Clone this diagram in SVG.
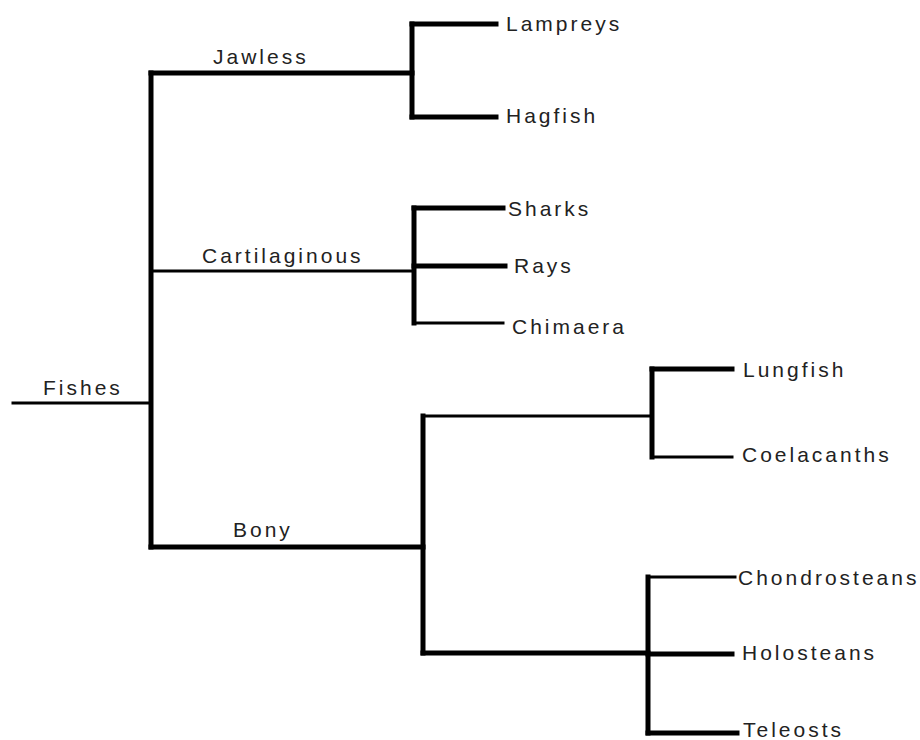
<svg xmlns="http://www.w3.org/2000/svg" width="920" height="740" viewBox="0 0 920 740">
<style>
.thick{stroke:#000;stroke-width:5;fill:none;stroke-linecap:square}
.thin{stroke:#000;stroke-width:3;fill:none;stroke-linecap:square}
text{font-family:"Liberation Sans",Arial,sans-serif;font-size:21px;letter-spacing:3px;fill:#222}
</style>
<rect width="920" height="740" fill="#fff"/>
<g id="connectors">
<line class="thin" x1="13" y1="403" x2="151" y2="403"/>
<line class="thick" x1="151" y1="73" x2="151" y2="547"/>
<line class="thick" x1="151" y1="73" x2="412" y2="73"/>
<line class="thin" x1="151" y1="271" x2="413" y2="271"/>
<line class="thick" x1="151" y1="547" x2="423" y2="547"/>
<line class="thick" x1="412" y1="24" x2="412" y2="117"/>
<line class="thick" x1="412" y1="24" x2="496" y2="24"/>
<line class="thick" x1="412" y1="117" x2="496" y2="117"/>
<line class="thick" x1="414" y1="208" x2="414" y2="323"/>
<line class="thick" x1="414" y1="208" x2="503" y2="208"/>
<line class="thick" x1="414" y1="266" x2="505" y2="266"/>
<line class="thin" x1="414" y1="323" x2="503" y2="323"/>
<line class="thick" x1="423" y1="416" x2="423" y2="653"/>
<line class="thin" x1="423" y1="416" x2="652" y2="416"/>
<line class="thick" x1="423" y1="653" x2="648" y2="653"/>
<line class="thick" x1="652" y1="369" x2="652" y2="457"/>
<line class="thick" x1="652" y1="369" x2="732" y2="369"/>
<line class="thin" x1="652" y1="457" x2="732" y2="457"/>
<line class="thick" x1="648" y1="577" x2="648" y2="733"/>
<line class="thin" x1="648" y1="577" x2="735" y2="577"/>
<line class="thick" x1="648" y1="654" x2="732" y2="654"/>
<line class="thick" x1="648" y1="733" x2="737" y2="733"/>
</g>
<g id="fishes"><text x="43" y="395">Fishes</text></g>
<g id="jawless"><text x="213" y="64">Jawless</text></g>
<g id="cartilaginous"><text x="202" y="263">Cartilaginous</text></g>
<g id="bony"><text x="233" y="537">Bony</text></g>
<g id="lampreys"><text x="506" y="31">Lampreys</text></g>
<g id="hagfish"><text x="506" y="123">Hagfish</text></g>
<g id="sharks"><text x="508" y="216">Sharks</text></g>
<g id="rays"><text x="514" y="273">Rays</text></g>
<g id="chimaera"><text x="512" y="334">Chimaera</text></g>
<g id="lungfish"><text x="743" y="377">Lungfish</text></g>
<g id="coelacanths"><text x="742" y="462">Coelacanths</text></g>
<g id="chondrosteans"><text x="738" y="585">Chondrosteans</text></g>
<g id="holosteans"><text x="742" y="660">Holosteans</text></g>
<g id="teleosts"><text x="743" y="737">Teleosts</text></g>
</svg>
